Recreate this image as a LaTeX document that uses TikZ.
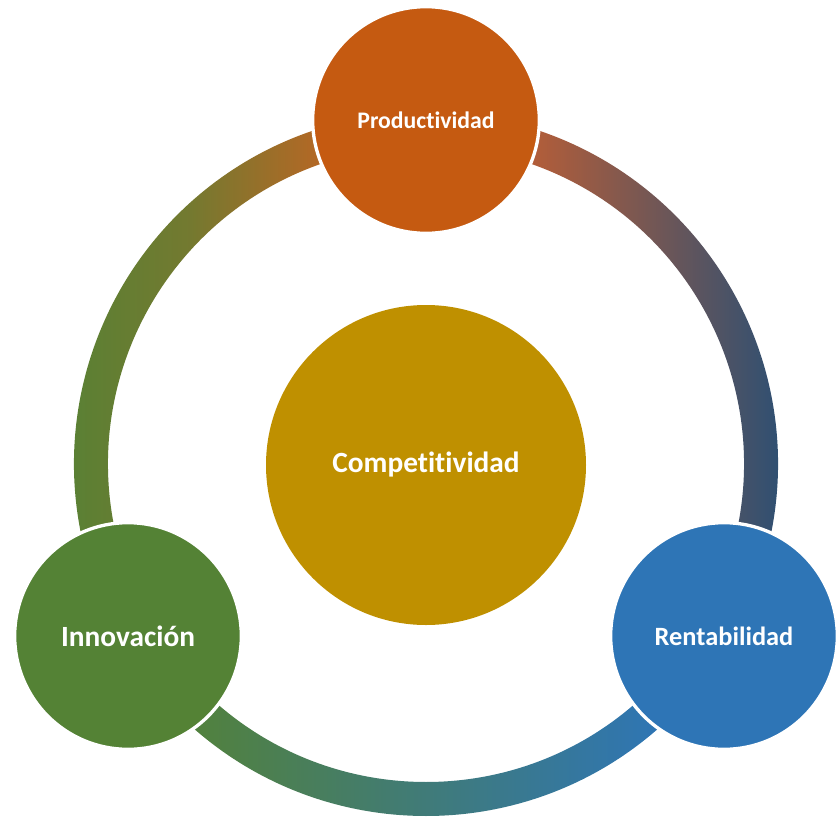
\documentclass[tikz,border=0pt]{standalone}
\usepackage{fontspec}
\setmainfont{Carlito}[Ligatures=NoCommon]
\usetikzlibrary{calc}
\definecolor{cOrange}{HTML}{C55A11}
\definecolor{cGold}{HTML}{BF9000}
\definecolor{cGreen}{HTML}{548235}
\definecolor{cBlue}{HTML}{2E75B6}
\definecolor{cNavy}{HTML}{1F4E79}
\definecolor{cArcTR}{HTML}{BA5E36}
\definecolor{cArcL}{HTML}{BA6624}
\begin{document}
\begin{tikzpicture}[x=0.75pt,y=-0.75pt,
  bubble/.style={circle,draw=white,line width=2.5pt,minimum size=170pt,inner sep=0pt,text=white,font=\bfseries},
  hub/.style={circle,fill=cGold,minimum size=240pt,inner sep=0pt,text=white,font=\bfseries\fontsize{22}{26}\selectfont}]
\useasboundingbox (0,0) rectangle (840,818);
\coordinate (C) at (426,464);
\def\Ro{352}\def\Ri{318}
% ring segments
\shade[left color=cArcTR,right color=cNavy]
  ($(C)+(-73:\Ro)$) arc[start angle=-73,end angle=13,radius=\Ro]
  -- ($(C)+(13:\Ri)$) arc[start angle=13,end angle=-73,radius=\Ri] -- cycle;
\shade[left color=cGreen!95!cBlue,right color=cBlue]
  ($(C)+(47:\Ro)$) arc[start angle=47,end angle=133,radius=\Ro]
  -- ($(C)+(133:\Ri)$) arc[start angle=133,end angle=47,radius=\Ri] -- cycle;
\shade[left color=cGreen,right color=cArcL,middle color=cGreen!70!cArcL]
  ($(C)+(167:\Ro)$) arc[start angle=167,end angle=253,radius=\Ro]
  -- ($(C)+(253:\Ri)$) arc[start angle=253,end angle=167,radius=\Ri] -- cycle;
% nodes
\node[hub] (comp) at (426,465) {Competitividad};
\node[bubble,fill=cOrange,font=\bfseries\fontsize{17.8}{21}\selectfont] (prod) at (426,120) {Productividad};
\node[bubble,fill=cGreen,font=\bfseries\fontsize{22}{26}\selectfont] (inno) at (128,636) {Innovación};
\node[bubble,fill=cBlue,font=\bfseries\fontsize{19.8}{24}\selectfont] (rent) at (724,636) {Rentabilidad};
\end{tikzpicture}
\end{document}
